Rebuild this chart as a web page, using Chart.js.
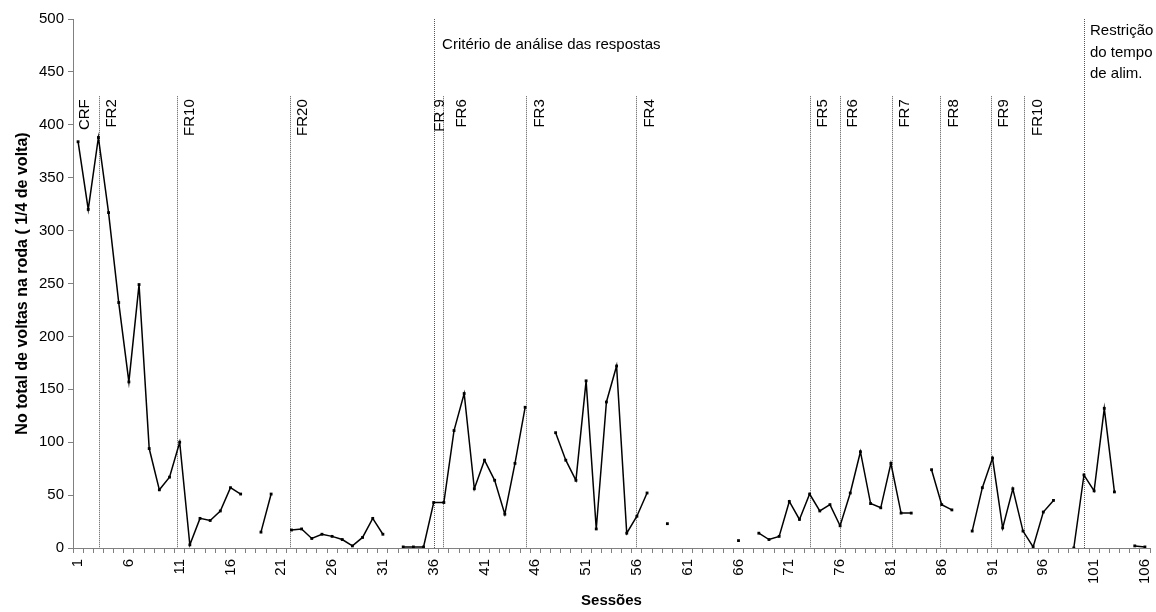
<!DOCTYPE html>
<html>
<head>
<meta charset="utf-8">
<script src="https://cdn.jsdelivr.net/npm/chart.js@4.4.1/dist/chart.umd.min.js"></script>
<style>
  html, body { margin: 0; padding: 0; background: #fff; }
  #wrap { width: 1156px; height: 612px; position: relative; }
</style>
</head>
<body>
<div id="wrap"><canvas id="chart"></canvas></div>
<script>
// sessions 1..106
const sessions = [
  "1","2","3","4","5","6","7","8","9","10",
  "11","12","13","14","15","16","17","18","19","20",
  "21","22","23","24","25","26","27","28","29","30",
  "31","32","33","34","35","36","37","38","39","40",
  "41","42","43","44","45","46","47","48","49","50",
  "51","52","53","54","55","56","57","58","59","60",
  "61","62","63","64","65","66","67","68","69","70",
  "71","72","73","74","75","76","77","78","79","80",
  "81","82","83","84","85","86","87","88","89","90",
  "91","92","93","94","95","96","97","98","99","100",
  "101","102","103","104","105","106"
];

// total wheel turns (1/4 turn units); null = no session recorded
const turns = [
  384, 320, 388, 317, 232, 157, 249, 94, 55, 67,
  100, 3, 28, 26, 35, 57, 51, null, 15, 51,
  null, 17, 18, 9, 13, 11, 8, 2, 10, 28,
  13, null, 1, 1, 1, 43, 43, 111, 146, 56,
  83, 64, 32, 80, 133, null, null, 109, 83, 64,
  158, 18, 138, 172, 14, 30, 52, null, 23, null,
  null, null, null, null, null, 7, null, 14, 8, 11,
  44, 27, 51, 35, 41, 21, 52, 91, 42, 38,
  80, 33, 33, null, 74, 41, 36, null, 16, 57,
  85, 19, 56, 16, 1, 34, 45, null, 0, 69,
  54, 132, 53, null, 2, 1
];

const yTicks = [0, 50, 100, 150, 200, 250, 300, 350, 400, 450, 500];

// phase changes (session position of the dotted line)
const phaseLines = [3.05, 10.75, 21.87, 36.04, 36.95, 45.1, 55.9, 73.05, 76.0, 81.1, 85.87, 90.86, 94.14, 100];
const phaseFull = [false, false, false, true, false, false, false, false, false, false, false, false, false, true];
const phaseNames = ["CRF", "FR2", "FR10", "FR20", "FR 9", "FR6", "FR3", "FR4", "FR5", "FR6", "FR7", "FR8", "FR9", "FR10"];
const phaseNameAt = [1.69, 4.3, 12.02, 23.1, 36.58, 38.8, 46.42, 57.27, 74.33, 77.28, 82.37, 87.15, 92.12, 95.49];

const criterioNote = ["Critério de análise das respostas"];
const restricaoNote = ["Restrição", "do tempo", "de alim."];

const FONT = "'Liberation Sans', Arial, sans-serif";
Chart.defaults.font.family = FONT;
Chart.defaults.color = "#000";

const phasePlugin = {
  id: "phases",
  beforeDatasetsDraw(chart) {
    const { ctx, chartArea, scales: { x, y } } = chart;
    const shortTop = y.getPixelForValue(427);
    ctx.save();
    ctx.strokeStyle = "#555";
    ctx.lineWidth = 1;
    ctx.setLineDash([1, 1]);
    phaseLines.forEach((s, i) => {
      const px = Math.round(x.getPixelForValue(s - 1)) + 0.5;
      ctx.beginPath();
      ctx.moveTo(px, phaseFull[i] ? chartArea.top : shortTop);
      ctx.lineTo(px, chartArea.bottom);
      ctx.stroke();
    });
    ctx.setLineDash([]);

    ctx.fillStyle = "#000";
    ctx.font = "15px " + FONT;
    phaseNames.forEach((name, i) => {
      const px = x.getPixelForValue(phaseNameAt[i] - 1);
      ctx.save();
      ctx.translate(px, shortTop + 3);
      ctx.rotate(-Math.PI / 2);
      ctx.textAlign = "right";
      ctx.textBaseline = "middle";
      ctx.fillText(name, 0, 0);
      ctx.restore();
    });

    ctx.textAlign = "left";
    ctx.textBaseline = "middle";
    const cx = x.getPixelForValue(phaseLines[3] - 1) + 8;
    criterioNote.forEach((t, i) => ctx.fillText(t, cx, chartArea.top + 26 + i * 21));
    const rx = x.getPixelForValue(phaseLines[13] - 1) + 6;
    restricaoNote.forEach((t, i) => ctx.fillText(t, rx, chartArea.top + 12 + i * 21.5));
    ctx.restore();
  }
};

new Chart(document.getElementById("chart"), {
  type: "line",
  data: {
    labels: sessions,
    datasets: [{
      data: turns,
      borderColor: "#000",
      borderWidth: 1.5,
      backgroundColor: "#000",
      pointStyle: "rect",
      pointRadius: 2,
      pointBorderWidth: 0,
      pointBackgroundColor: "#000",
      tension: 0,
      spanGaps: false
    }]
  },
  options: {
    responsive: true,
    maintainAspectRatio: false,
    animation: false,
    layout: { padding: { left: 0, top: 19, right: 6, bottom: 0 } },
    plugins: {
      legend: { display: false },
      tooltip: { enabled: false }
    },
    scales: {
      x: {
        type: "category",
        offset: true,
        grid: {
          offset: true,
          drawOnChartArea: false,
          drawTicks: true,
          tickLength: 5,
          color: "#808080"
        },
        border: { color: "#808080", width: 1 },
        ticks: {
          autoSkip: false,
          minRotation: 90,
          maxRotation: 90,
          padding: 6,
          font: { size: 15 },
          callback: (v, i) => (i % 5 === 0 ? sessions[i] : "")
        },
        title: {
          display: true,
          text: "Sessões",
          font: { size: 15, weight: "bold" },
          padding: { top: 0, bottom: 2 }
        },
        afterFit: s => {
          s.height = 64;
          s.paddingLeft = 0;
          s.paddingRight = 0;
        }
      },
      y: {
        min: 0,
        max: 500,
        afterBuildTicks: s => { s.ticks = yTicks.map(v => ({ value: v })); },
        grid: {
          drawOnChartArea: false,
          drawTicks: true,
          tickLength: 5,
          color: "#808080"
        },
        border: { color: "#808080", width: 1 },
        ticks: { padding: 4, font: { size: 15 } },
        title: {
          display: true,
          text: "No total de voltas na roda ( 1/4 de volta)",
          font: { size: 16, weight: "bold" },
          padding: { top: 13, bottom: 0 }
        },
        afterFit: s => { s.width = 73; }
      }
    }
  },
  plugins: [phasePlugin]
});
</script>
</body>
</html>
